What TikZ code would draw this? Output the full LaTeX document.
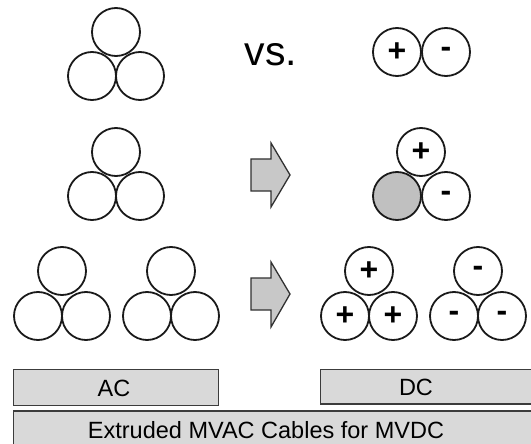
\documentclass[tikz,border=0pt]{standalone}
\usepackage{fontspec}
\setmainfont{Liberation Sans}
\definecolor{boxgrey}{HTML}{D9D9D9}
\definecolor{arrgrey}{HTML}{C8C8C8}
\definecolor{cgrey}{HTML}{C0C0C0}
\definecolor{edge}{HTML}{1A1A1A}
\begin{document}
\begin{tikzpicture}[x=1pt,y=-1pt,
  cable/.style={circle, draw=edge, line width=1.8pt, minimum size=48pt, inner sep=0pt,
    font=\fontsize{32}{32}\selectfont\bfseries},
  greycable/.style={cable, fill=cgrey},
  boxshape/.style={draw=edge!85, line width=1.3pt, fill=boxgrey},
  arrowshape/.style={draw=edge!90, line width=1.3pt, fill=arrgrey, line join=miter},
  lbl/.style={inner sep=0pt, font=\fontsize{23.5}{27}\selectfont}
]
\useasboundingbox (0,0) rectangle (531,444);

% Row 1
\node[cable] (a1t) at (116,32) {};
\node[cable] (a1l) at (92,76) {};
\node[cable] (a1r) at (140,76) {};
\node[inner sep=0pt, font=\fontsize{41}{41}\selectfont, anchor=base] (vs) at (271,66) {vs.};
\node[cable] (d1p) at (397,52) {+};
\node[cable] (d1m) at (446,52) {-};

% Row 2
\node[cable] (a2t) at (116,152) {};
\node[cable] (a2l) at (92,196) {};
\node[cable] (a2r) at (140,196) {};
\draw[arrowshape] (251,159) -- (271,159) -- (271,143) -- (290,175) -- (271,207) -- (271,191) -- (251,191) -- cycle;
\node[cable] (d2t) at (421,152) {+};
\node[greycable] (d2l) at (397,196) {};
\node[cable] (d2r) at (446,196) {-};

% Row 3
\node[cable] (a3at) at (62,271) {};
\node[cable] (a3al) at (38,316) {};
\node[cable] (a3ar) at (86,316) {};
\node[cable] (a3bt) at (171,271) {};
\node[cable] (a3bl) at (147,316) {};
\node[cable] (a3br) at (195,316) {};
\draw[arrowshape] (251,278) -- (271,278) -- (271,262) -- (290,294) -- (271,327) -- (271,310) -- (251,310) -- cycle;
\node[cable] (d3at) at (369,271) {+};
\node[cable] (d3al) at (345,316) {+};
\node[cable] (d3ar) at (393,316) {+};
\node[cable] (d3bt) at (478,271) {-};
\node[cable] (d3bl) at (454,316) {-};
\node[cable] (d3br) at (502,316) {-};

% Boxes
\draw[boxshape] (13.5,369.5) rectangle (218.5,405.5);
\node[lbl] (ac) at (114,388) {AC};
\draw[boxshape] (320.5,369.5) rectangle (540,404);
\node[lbl] (dc) at (416,387) {DC};
\draw[boxshape] (13.5,411) rectangle (540,455);
\node[lbl] (ext) at (266,430) {Extruded MVAC Cables for MVDC};
\end{tikzpicture}
\end{document}
